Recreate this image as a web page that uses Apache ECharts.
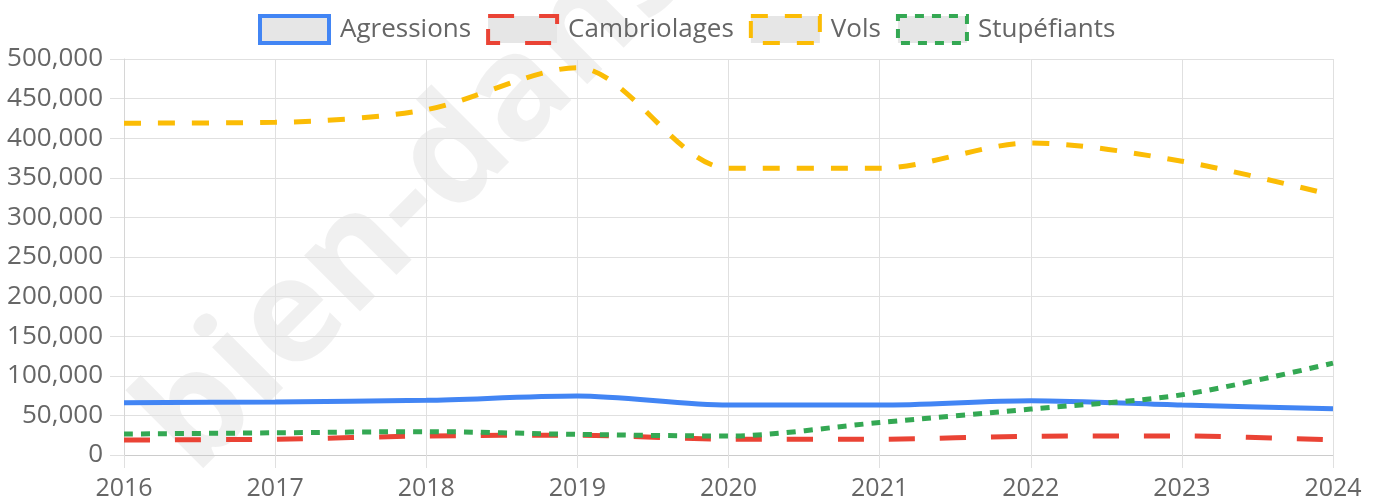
<!DOCTYPE html>
<html>
<head>
<meta charset="utf-8">
<script src="https://cdn.jsdelivr.net/npm/echarts@6/dist/echarts.min.js"></script>
<style>
html,body{margin:0;padding:0;background:#fff;}
#chart{width:1381px;height:504px;}
</style>
</head>
<body>
<div id="chart"></div>
<script>
var years = ['2016','2017','2018','2019','2020','2021','2022','2023','2024'];
var agressions   = [66000, 67000, 69000, 74500, 63000, 63000, 68500, 63000, 58500];
var cambriolages = [19000, 20000, 24000, 25000, 20000, 20000, 23600, 24000, 19000];
var vols         = [419000, 420000, 436000, 489000, 362000, 362000, 394000, 371000, 328000];
var stupefiants  = [26500, 28000, 29500, 26000, 24000, 41000, 58000, 76000, 116000];
var seriesNames = ['Agressions', 'Cambriolages', 'Vols', 'Stupéfiants'];

var colors = ['#4285F4', '#EA4335', '#FBBC05', '#34A853'];
var dashes = ['solid', [26, 25], [17, 17], [9, 8]];
var dataSets = [agressions, cambriolages, vols, stupefiants];

var chart = echarts.init(document.getElementById('chart'));
var font = '"Open Sans", "Noto Sans", sans-serif';

var series = seriesNames.map(function (n, i) {
  return {
    name: n,
    type: 'line',
    data: dataSets[i],
    smooth: 0.3,
    symbol: 'none',
    lineStyle: { color: colors[i], width: 5, type: dashes[i], cap: 'butt' },
    itemStyle: { color: colors[i] },
    z: 3 + i
  };
});

chart.setOption({
  animation: false,
  textStyle: { fontFamily: font },
  graphic: [{
    type: 'text',
    x: 166, y: 447,
    rotation: 45 * Math.PI / 180,
    z: -10,
    silent: true,
    style: {
      text: 'bien-dans-ma-ville.fr',
      font: 'bold 145px "Open Sans"',
      fill: 'rgba(0,0,0,0.06)',
      align: 'left',
      verticalAlign: 'middle'
    }
  }],
  legend: {
    top: 9,
    left: 253,
    icon: 'rect',
    itemWidth: 69,
    itemHeight: 27,
    itemGap: 15,
    textStyle: { color: '#666', fontSize: 26, fontFamily: font, padding: [0, 0, 0, 6] },
    data: seriesNames.map(function (n, i) {
      return {
        name: n,
        icon: 'rect',
        itemStyle: {
          color: '#e6e6e6',
          borderColor: colors[i],
          borderWidth: 4,
          borderType: dashes[i]
        }
      };
    })
  },
  grid: { left: 124, right: 48, top: 59, bottom: 49, containLabel: false },
  xAxis: {
    type: 'category',
    data: years,
    boundaryGap: false,
    axisLine: { lineStyle: { color: '#cccccc', width: 1 } },
    axisTick: { show: true, length: 13, lineStyle: { color: '#e0e0e0' } },
    splitLine: { show: true, lineStyle: { color: '#e0e0e0', width: 1 } },
    axisLabel: { color: '#666', fontSize: 25, margin: 21, fontFamily: font }
  },
  yAxis: {
    type: 'value',
    min: 0,
    max: 500000,
    interval: 50000,
    axisLine: { show: true, lineStyle: { color: '#d6d6d6', width: 1 } },
    axisTick: { show: true, length: 14, lineStyle: { color: '#e0e0e0' } },
    splitLine: { show: true, lineStyle: { color: '#e0e0e0', width: 1 } },
    axisLabel: {
      color: '#666', fontSize: 26, margin: 21, fontFamily: font,
      formatter: function (v) { return v.toLocaleString('en-US'); }
    }
  },
  series: series
});
</script>
</body>
</html>
